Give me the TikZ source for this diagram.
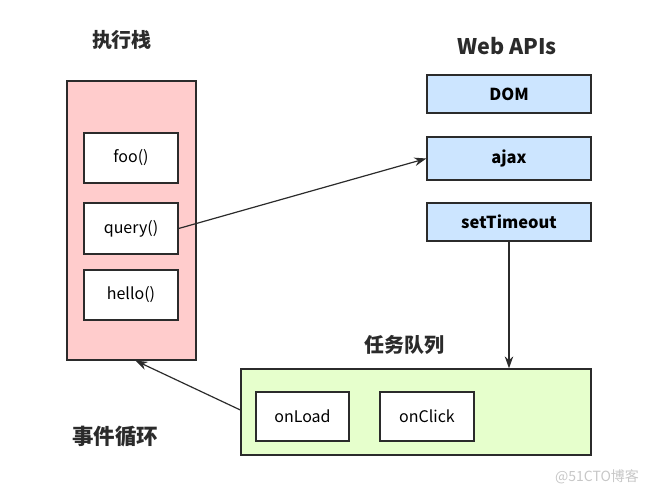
\documentclass[tikz,border=0pt]{standalone}
\usepackage{fontspec}
\setmainfont{Noto Sans CJK SC}
\usetikzlibrary{positioning}
\usetikzlibrary{arrows.meta}

\definecolor{stackpink}{HTML}{FFCCCC}
\definecolor{apiblue}{HTML}{CCE5FF}
\definecolor{queuegreen}{HTML}{E6FFCC}
\definecolor{edgegray}{HTML}{2B2B2B}

\tikzset{
    frame/.style={draw=edgegray, line width=1.3pt, inner sep=0pt},
    callbox/.style={frame, fill=white, minimum width=94pt, minimum height=50pt, font=\fontsize{16}{18}\selectfont},
    apibox/.style={frame, fill=apiblue, minimum width=164pt, font=\bfseries\fontsize{16.5}{18}\selectfont},
    title/.style={font=\bfseries\fontsize{20}{22}\selectfont, text=edgegray},
    flow/.style={draw=edgegray, line width=1.2pt, -{Stealth[length=12pt,width=8.5pt]}}
}

\begin{document}
\begin{tikzpicture}[x=1pt, y=-1pt]
            \useasboundingbox (0,0) rectangle (657,494);
            % execution stack
            \node[title] (stacktitle) at (122,40) {执行栈};
            \node[frame, fill=stackpink, minimum width=129pt, minimum height=279pt] (stack) at (131.5,220.5) {};
            \node[callbox] (foo) at (131,158) {foo()};
            \node[callbox, minimum height=51pt] (query) at (131,228.5) {query()};
            \node[callbox] (hello) at (131,295) {hello()};
            % web apis
            \node[title, font=\bfseries\fontsize{21.5}{24}\selectfont] (apititle) at (507,46) {Web APIs};
            \node[apibox, minimum height=38pt] (dom) at (509,94) {DOM};
            \node[apibox, minimum height=43pt] (ajax) at (509,158.5) {ajax};
            \node[apibox, minimum height=38pt] (timeout) at (509,222) {setTimeout};
            % task queue
            \node[title] (queuetitle) at (404,345) {任务队列};
            \node[frame, fill=queuegreen, minimum width=350pt, minimum height=86pt] (queue) at (416,412) {};
            \node[callbox, minimum width=93pt, minimum height=49pt] (onload) at (302.5,416.5) {onLoad};
            \node[callbox, minimum width=94pt, minimum height=49pt] (onclick) at (427,416.5) {onClick};
            % event loop
            \node[title, font=\bfseries\fontsize{21.5}{24}\selectfont] (looptitle) at (115,437) {事件循环};
            \draw[flow] (query.east) -- (ajax.west);
            \draw[flow] (timeout.south) -- (timeout.south |- queue.north);
            \draw[flow] ([yshift=2pt]queue.west) -- ([xshift=4pt]stack.south);
            \node[text=black!22, font=\fontsize{14}{16}\selectfont] (mark) at (597,477) {@51CTO博客};
        \end{tikzpicture}
\end{document}
